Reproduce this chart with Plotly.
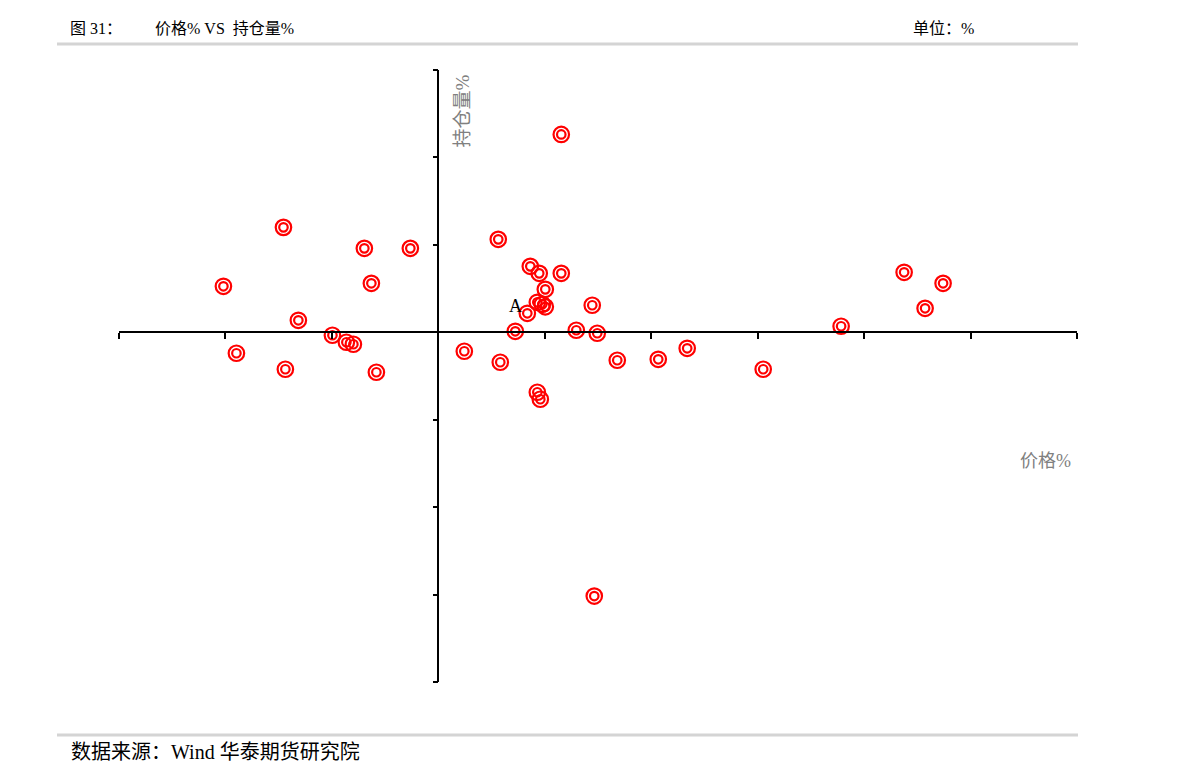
import plotly.graph_objects as go

# price change % (x) and open interest change % (y)
price_pct = [1.155, -1.455, -2.019, -1.897, -1.437, -1.315, -0.995, -0.864, -0.798,
             -0.695, -0.629, -0.582, -0.263, 0.244, 0.563, 0.582, 0.723, 0.836,
             0.864, 0.948, 1.005, 0.930, 0.977, 1.005, 1.155, 0.930, 0.958, 1.296,
             1.446, 1.493, 1.681, 2.066, 2.338, 3.052, 3.784, 4.376, 4.573, 4.742,
             1.465]
oi_pct = [2.263, 1.200, 0.526, -0.240, -0.423, 0.137, -0.034, -0.114, -0.137,
          0.960, 0.560, -0.457, 0.960, -0.217, 1.063, -0.343, 0.011, 0.217,
          0.754, 0.674, 0.491, 0.343, 0.320, 0.291, 0.674, -0.686, -0.766, 0.023,
          0.309, -0.011, -0.320, -0.309, -0.183, -0.423, 0.069, 0.686, 0.274, 0.560,
          -3.017]
label_point = ("A", 0.836, 0.217)

x_ticks = [-3, -2, -1, 0, 1, 2, 3, 4, 5, 6]
y_ticks = [-4, -3, -2, -1, 0, 1, 2, 3]

OFF = 8  # page body margin
W, H = 1175, 768
L, R, T, B = 119 - OFF, 1077 - OFF, 70 - OFF, 682 - OFF

def px_x(p):
    return (p - OFF - L) / (R - L)

def px_y(p):
    return (B - (p - OFF)) / (B - T)

serif = "Liberation Serif, Times New Roman, Noto Sans CJK SC, serif"

fig = go.Figure()
fig.add_trace(go.Scatter(x=price_pct, y=oi_pct, mode="markers",
                         marker=dict(symbol="circle-open", size=15.5, color="#ff0000",
                                     line=dict(width=2.2, color="#ff0000")),
                         hoverinfo="skip", showlegend=False))
fig.add_trace(go.Scatter(x=price_pct, y=oi_pct, mode="markers",
                         marker=dict(symbol="circle-open", size=8.5, color="#ff0000",
                                     line=dict(width=2.2, color="#ff0000")),
                         hoverinfo="skip", showlegend=False))

fig.update_layout(
    width=W, height=H,
    margin=dict(l=L, r=W - R, t=T, b=H - B),
    paper_bgcolor="white", plot_bgcolor="white",
    font=dict(family=serif, color="black"),
    xaxis=dict(range=[x_ticks[0], x_ticks[-1]], tickvals=x_ticks, showticklabels=False,
               showgrid=False, zeroline=False, showline=True, linecolor="black", linewidth=1.5,
               ticks="outside", ticklen=6, tickwidth=1.5, tickcolor="black",
               anchor="free", position=(0 - y_ticks[0]) / (y_ticks[-1] - y_ticks[0])),
    yaxis=dict(range=[y_ticks[0], y_ticks[-1]], tickvals=y_ticks, showticklabels=False,
               showgrid=False, zeroline=False, showline=True, linecolor="black", linewidth=1.5,
               ticks="outside", ticklen=5, tickwidth=1.5, tickcolor="black",
               anchor="free", position=(0 - x_ticks[0]) / (x_ticks[-1] - x_ticks[0])),
)

anns = [
    dict(text=label_point[0], x=label_point[1], y=label_point[2], xref="x", yref="y",
         xshift=-12, yshift=7, showarrow=False, font=dict(size=18, color="black", family=serif)),
    dict(text="持仓量%", x=px_x(462), y=px_y(73), xref="paper", yref="paper",
         textangle=-90, xanchor="center", yanchor="top", showarrow=False,
         font=dict(size=19, color="#808080", family=serif)),
    dict(text="价格%", x=px_x(1045), y=px_y(461), xref="paper", yref="paper",
         xanchor="center", yanchor="middle", showarrow=False,
         font=dict(size=18, color="#808080", family=serif)),
    dict(text="图 31：", x=px_x(68), y=px_y(28), xref="paper", yref="paper",
         xanchor="left", yanchor="middle", showarrow=False,
         font=dict(size=16, color="black", family=serif)),
    dict(text="价格% VS  持仓量%", x=px_x(153), y=px_y(28), xref="paper", yref="paper",
         xanchor="left", yanchor="middle", showarrow=False,
         font=dict(size=16, color="black", family=serif)),
    dict(text="单位：%", x=px_x(911), y=px_y(28), xref="paper", yref="paper",
         xanchor="left", yanchor="middle", showarrow=False,
         font=dict(size=16, color="black", family=serif)),
    dict(text="数据来源：Wind 华泰期货研究院", x=px_x(69), y=px_y(752), xref="paper", yref="paper",
         xanchor="left", yanchor="middle", showarrow=False,
         font=dict(size=20, color="black", family=serif)),
]
fig.update_layout(annotations=anns)

fig.update_layout(shapes=[
    dict(type="line", xref="paper", yref="paper", x0=px_x(57), x1=px_x(1078),
         y0=px_y(44), y1=px_y(44), line=dict(color="#d4d4d4", width=3)),
    dict(type="line", xref="paper", yref="paper", x0=px_x(57), x1=px_x(1078),
         y0=px_y(735), y1=px_y(735), line=dict(color="#d4d4d4", width=3)),
])

fig.write_html("out.html")
